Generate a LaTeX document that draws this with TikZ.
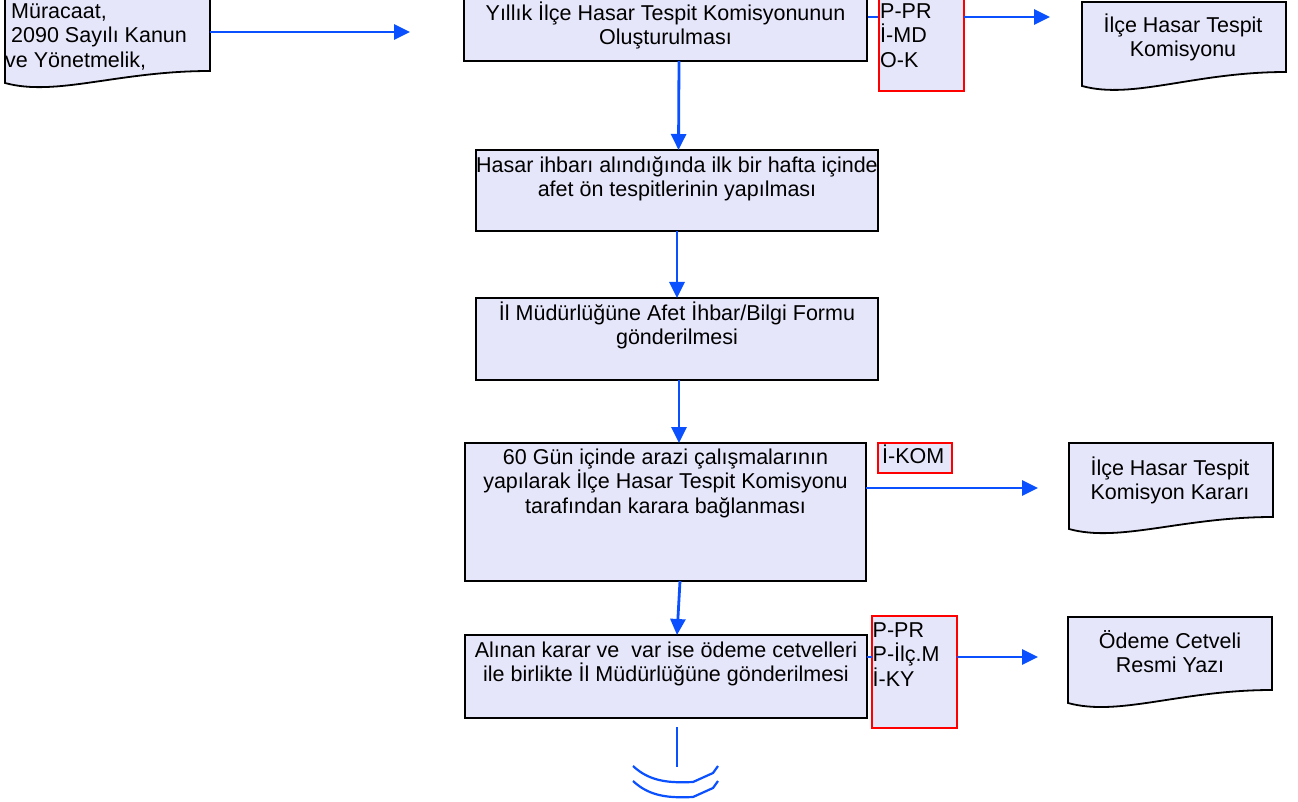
\documentclass[tikz,border=0pt]{standalone}
\usepackage{fontspec}
\setmainfont{Liberation Sans}
\usetikzlibrary{arrows.meta}
\definecolor{boxfill}{RGB}{230,230,250}
\definecolor{flowblue}{RGB}{10,80,255}
\newcommand\topstrutx{\rule{0pt}{21pt}}
\newcommand\mydoc[5]{\path[docbox] (#1,#2) -- (#3,#2) -- (#3,#4) .. controls ({#3-0.45*(#3-#1)},#4) and ({#1+0.25*(#3-#1)},{#5+14}) .. (#1,#5) -- cycle;}
\begin{document}
\begin{tikzpicture}[x=1pt,y=-1pt,
  box/.style={draw=black, line width=1.8pt, fill=boxfill, inner sep=0pt, outer sep=0pt, anchor=north west},
  redbox/.style={draw=red, line width=1.8pt, fill=boxfill, inner sep=0pt, outer sep=0pt, anchor=north west},
  docbox/.style={draw=black, line width=1.8pt, fill=boxfill},
  txt/.style={font=\fontsize{21.5}{24.5}\selectfont, align=center, inner sep=0pt, anchor=north},
  ltxt/.style={font=\fontsize{21.5}{24.5}\selectfont, align=left, inner sep=0pt, anchor=north west},
  flowline/.style={draw=flowblue, line width=2.8pt},
  flow/.style={flowline, -{Triangle[length=16pt, width=15pt]}}]
\useasboundingbox (0,0) rectangle (1298,802);
\clip (0,0) rectangle (1298,802);

% left document
\mydoc{5}{-40}{210}{71}{83}
\node[ltxt] (tl) at (5,-3) {\topstrutx\hspace*{6pt}Müracaat,\\\hspace*{6pt}2090 Sayılı Kanun\\ve Yönetmelik,};

% right documents
\mydoc{1082}{2}{1286}{72}{86}
\node[txt] (td2) at (1183,11) {\topstrutx İlçe Hasar Tespit\\Komisyonu};
\mydoc{1069}{443}{1273}{517}{529}
\node[txt] (td3) at (1170,454) {\topstrutx İlçe Hasar Tespit\\Komisyon Kararı};
\mydoc{1068}{617}{1272}{690}{703}
\node[txt] (td4) at (1170,627) {\topstrutx Ödeme Cetveli\\Resmi Yazı};

% coordinates
\coordinate (lout) at (210,32);
\coordinate (lin) at (410,32);
\coordinate (a1) at (1050,17);
\coordinate (a4) at (1038,488);
\coordinate (a5) at (1038,657);
\coordinate (e1) at (677,727);
\coordinate (e2) at (677,767);

% connector drawn under boxes
\draw[flowline] (879,17) -- (867,17);

% process boxes
\node[box, minimum width=403pt, minimum height=101pt] (b1) at (464,-40) {};
\node[box, minimum width=402pt, minimum height=81pt] (b2) at (476,150) {};
\node[box, minimum width=402pt, minimum height=82pt] (b3) at (476,298) {};
\node[box, minimum width=401pt, minimum height=138pt] (b4) at (465,443) {};
\node[box, minimum width=402pt, minimum height=83pt] (b5) at (465,635) {};

% red boxes
\node[redbox, minimum width=85pt, minimum height=131pt] (r1) at (879,-40) {};
\node[redbox, minimum width=74pt, minimum height=30pt] (r4) at (878,443) {};
\node[redbox, minimum width=85pt, minimum height=112pt] (r5) at (872,616) {};

% texts
\node[txt] (t1) at (665.5,-1) {\topstrutx Yıllık İlçe Hasar Tespit Komisyonunun\\Oluşturulması};
\node[txt] (t2) at (677,151) {\topstrutx Hasar ihbarı alındığında ilk bir hafta içinde\\afet ön tespitlerinin yapılması};
\node[txt] (t3) at (677,299) {\topstrutx İl Müdürlüğüne Afet İhbar/Bilgi Formu\\gönderilmesi};
\node[txt] (t4) at (665.5,443) {\topstrutx 60 Gün içinde arazi çalışmalarının\\yapılarak İlçe Hasar Tespit Komisyonu\\tarafından karara bağlanması};
\node[txt] (t5) at (666,636) {\topstrutx Alınan karar ve \ var ise ödeme cetvelleri\\ile birlikte İl Müdürlüğüne gönderilmesi};

\node[ltxt] (tr1) at (880,-3) {\topstrutx P-PR\\İ-MD\\O-K};
\node[ltxt] (tr4) at (882,442) {\topstrutx İ-KOM};
\node[ltxt] (tr5) at (872.5,616) {\topstrutx P-PR\\P-İlç.M\\İ-KY};

% connectors
\draw[flow] (lout) -- (lin);
\draw[flow] (r1.east |- a1) -- (a1);
\draw[flow] ([xshift=13.5pt]b1.south) -- ([xshift=1.5pt]b2.north);
\draw[flow] (b2.south) -- (b3.north);
\draw[flow] ([xshift=2pt]b3.south) -- ([xshift=13.5pt]b4.north);
\draw[flow] ([xshift=14.5pt]b4.south) -- ([xshift=11pt]b5.north);
\draw[flow] (b4.east |- a4) -- (a4);
\draw[flowline] (b5.east |- a5) -- (r5.west |- a5);
\draw[flow] (r5.east |- a5) -- (a5);

% off-page end
\draw[flowline, line width=2.2pt] (e1) -- (e2);
\draw[flowline, line width=2.2pt] (633,766) .. controls (650,782) and (670,783) .. (693,782) -- (713,773) -- (718,766);
\draw[flowline, line width=2.2pt] (633,781) .. controls (650,797) and (670,798) .. (693,797) -- (713,788) -- (718,781);
\end{tikzpicture}
\end{document}
